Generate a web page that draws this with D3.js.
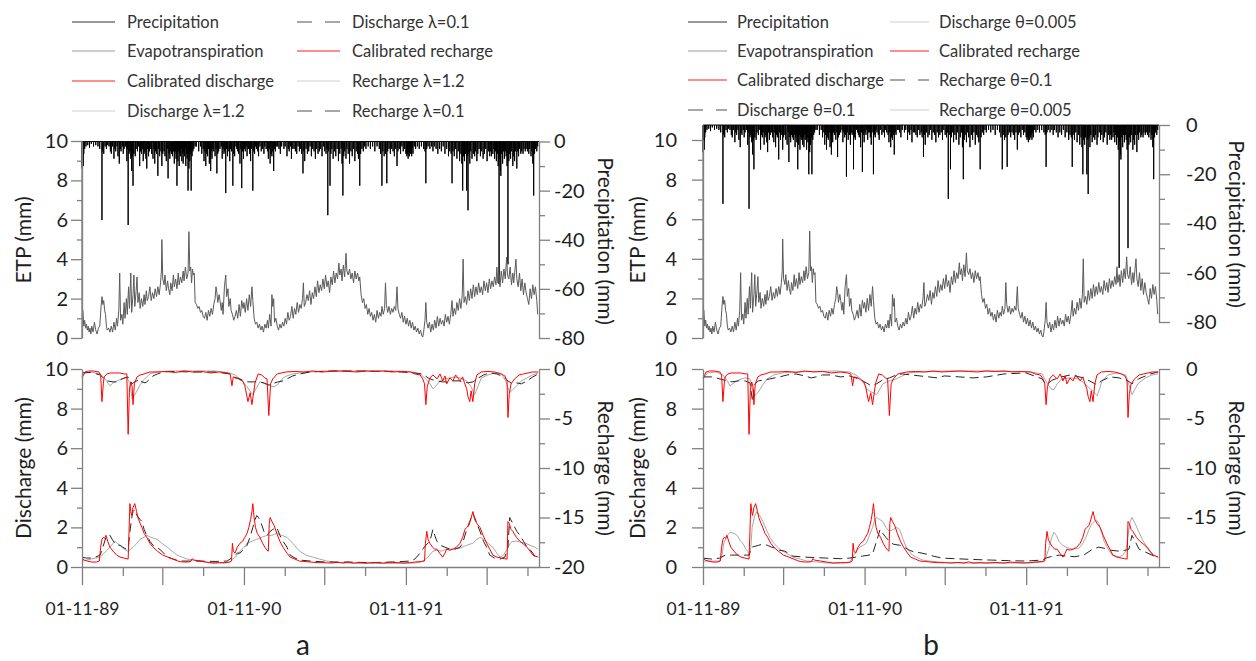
<!DOCTYPE html>
<html><head><meta charset="utf-8">
<script src="https://cdn.jsdelivr.net/npm/d3@7"></script>
<style>body{margin:0;background:#fff} text{font-family:Lato,"Open Sans",sans-serif}</style>
</head><body><svg id="c" width="1256" height="661"></svg>
<script>
// ---------- DATA (day offset from 01-11-1989, value) ----------
const precipitation = [[0,11],[1,9],[2,7],[3,10],[4,5],[6,3],[9,2],[13,1.5],[17,2.5],[21,1],[26,2],[31,1.5],[36,2],[40,3],
[45,32],[46,4],[49,5],[52,2],[55,3],[58,1.5],[61,2],[64,4],[66,5],[69,2],[72,7],[74,3],[76,4],[79,2],[81,6],[84,9],[86,3],[88,4],[91,2],[93,5],[95,3],[98,2],[101,8],[102,3],[104,34],[106,5],[108,4],[110,7],[112,12],[113,6],[115,18],[117,5],[120,6],[122,3],[125,4],[127,2],[130,10],[132,4],[134,5],[136,3],[138,8],[140,5],[142,4],[144,7],[146,11],[148,3],[150,6],[152,4],[155,3],[157,5],[160,7],[162,3],[164,9],[166,4],[168,5],[171,14],[173,3],[175,6],[178,4],[180,10],[182,5],[185,4],[187,6],[190,8],[192,3],[194,15],[196,5],[198,7],[200,4],[202,5],[204,6],[206,4],[208,9],[209,5],[211,4],[212,7],[214,18],[215,5],[216,8],[218,4],[219,10],[221,5],[222,6],[224,3],[225,8],[227,5],[228,9],[230,4],[231,6],[233,3],[234,10],[236,5],[237,7],[239,20],[240,5],[241,11],[242,4],[243,8],[245,5],[246,20],[248,6],[250,4],[252,3],[255,2],[258,2],[263,4],[267,2],[270,5],[273,3],[275,8],[277,4],[279,10],[281,5],[283,6],[285,3],[287,9],[289,6],[290,12],[292,4],[293,7],[295,3],[297,4],[300,6],[302,3],[304,13],[306,5],[308,4],[311,3],[314,2],[316,7],[318,3],[320,5],[322,4],[324,21],[326,3],[328,6],[331,4],[333,8],[335,3],[337,4],[340,18],[342,5],[344,6],[347,2],[349,3],[351,4],[353,5],[356,9],[358,3],[360,19],[362,4],[364,7],[366,3],[368,4],[370,2],[372,6],[374,3],[376,3],[378,5],[380,8],[382,3],[385,20],[387,4],[389,5],[391,2],[393,3],[396,4],[398,6],[401,2],[404,4],[407,3],[410,5],[412,2],[415,3],[418,4],[420,7],[422,3],[424,9],[426,5],[428,6],[430,4],[432,12],[434,3],[436,4],[439,2],[441,2],[444,3],[447,5],[450,2],[455,3],[458,2],[462,6],[465,3],[467,4],[470,2],[472,7],[475,3],[478,3],[481,4],[484,5],[487,2],[490,4],[493,3],[495,5],[498,13],[500,4],[502,8],[505,3],[508,5],[511,4],[514,2],[517,6],[520,3],[523,4],[526,7],[529,3],[532,5],[535,4],[538,3],[541,6],[544,2],[547,4],[550,5],[552,3],[554,30],[556,4],[559,18],[561,5],[563,3],[566,7],[569,4],[572,6],[575,3],[578,8],[581,5],[584,3],[586,9],[588,22],[590,6],[592,4],[595,7],[597,3],[600,5],[603,9],[606,4],[609,6],[612,3],[615,8],[618,4],[621,5],[623,7],[626,18],[628,5],[631,3],[634,4],[637,2],[640,3],[645,2],[650,3],[655,2],[660,4],[665,2],[670,3],[673,5],[676,18],[678,4],[681,6],[684,5],[687,17],[689,4],[692,3],[695,5],[698,3],[701,4],[704,6],[707,3],[710,10],[712,4],[715,3],[718,5],[721,2],[724,4],[727,3],[730,5],[732,6],[734,5],[735,7],[736,4],[738,6],[740,5],[741,4],[743,6],[744,3],[746,5],[749,2],[752,3],[756,2],[760,3],[765,2],[770,3],[773,4],[775,17],[777,3],[780,2],[784,3],[788,2],[791,4],[794,2],[798,3],[802,5],[806,3],[810,4],[814,2],[818,5],[822,3],[826,6],[829,4],[832,5],[834,17],[836,4],[839,6],[842,3],[845,7],[848,4],[851,8],[854,5],[856,9],[858,20],[860,6],[862,8],[864,5],[867,20],[869,6],[870,28],[872,5],[874,9],[876,4],[879,7],[882,5],[885,6],[887,4],[890,8],[892,5],[895,3],[898,6],[901,4],[904,7],[907,5],[910,3],[913,8],[916,4],[919,6],[921,4],[923,6],[926,5],[928,3],[930,7],[932,4],[934,8],[936,5],[938,10],[940,58],[941,7],[943,12],[944,14],[946,5],[948,9],[950,4],[952,7],[954,4],[956,6],[958,10],[960,50],[962,8],[964,5],[966,7],[968,4],[971,10],[973,6],[975,8],[977,4],[980,11],[982,4],[984,6],[986,3],[989,5],[991,4],[994,5],[996,3],[999,4],[1001,3],[1004,4],[1007,5],[1009,3],[1012,6],[1014,4],[1016,9],[1018,22],[1020,5],[1022,3],[1025,4],[1027,2]];

const etp = [[0,1.5],[2,1.4],[4,0.6],[6,0.9],[8,0.5],[10,0.7],[12,0.4],[14,0.6],[16,0.3],[18,0.5],[20,0.2],[22,0.6],[25,0.3],[28,0.8],[31,0.4],[34,0.2],[37,0.5],[40,0.6],[43,1.6],[45,2.1],[47,1.7],[49,1.9],[51,1.4],[53,1.2],[55,0.6],[57,0.4],[60,0.5],[63,0.3],[66,0.6],[69,0.3],[72,0.8],[75,0.4],[78,1.0],[80,0.6],[83,1.4],[85,3.3],[87,0.9],[90,1.2],[92,0.7],[95,1.8],[97,1.0],[100,2.0],[102,1.2],[105,2.6],[107,1.5],[110,3.3],[112,1.3],[115,2.2],[117,3.2],[119,1.6],[122,2.4],[124,3.1],[126,1.8],[129,2.3],[131,1.5],[134,2.0],[137,1.6],[140,2.2],[142,1.7],[145,2.4],[147,1.9],[150,2.1],[153,2.6],[156,1.9],[159,2.3],[162,2.0],[165,2.5],[168,2.1],[171,2.6],[174,2.2],[177,2.8],[179,3.4],[180,5.0],[182,3.0],[185,2.7],[187,3.2],[190,2.4],[193,2.9],[195,2.5],[198,2.2],[200,2.8],[203,2.4],[206,3.2],[208,2.6],[211,3.0],[214,2.5],[217,3.3],[219,2.7],[222,3.1],[225,2.8],[228,3.4],[230,2.9],[233,3.6],[236,3.0],[239,3.3],[241,5.4],[243,3.4],[245,3.6],[247,2.8],[249,3.5],[251,3.2],[253,3.3],[255,1.8],[258,1.7],[261,1.5],[264,1.6],[267,1.3],[270,1.4],[273,1.1],[276,1.0],[279,1.3],[282,0.9],[285,1.4],[288,1.1],[291,1.5],[294,1.2],[297,1.7],[300,2.0],[302,2.6],[304,2.3],[306,1.8],[309,2.2],[311,1.9],[314,1.4],[316,1.8],[318,1.2],[321,2.6],[324,3.2],[326,2.1],[329,2.5],[331,1.6],[334,2.0],[336,1.4],[339,1.2],[342,0.9],[345,1.1],[348,1.4],[351,1.0],[354,1.7],[357,1.1],[360,1.9],[363,1.5],[365,1.8],[368,1.3],[371,2.0],[374,1.4],[377,2.2],[380,1.6],[383,2.6],[385,1.9],[388,1.0],[391,0.7],[394,0.8],[397,0.5],[400,0.7],[403,0.4],[406,0.6],[409,0.3],[412,0.7],[415,0.5],[418,0.9],[420,0.5],[423,1.2],[426,0.6],[428,2.2],[430,1.6],[432,2.0],[434,0.8],[437,1.0],[440,0.6],[443,0.4],[446,0.7],[449,0.5],[452,0.8],[455,0.6],[458,1.0],[461,0.7],[464,1.3],[467,0.9],[470,1.1],[473,1.6],[476,1.0],[479,1.5],[482,1.2],[485,1.8],[488,1.3],[491,1.7],[494,1.5],[497,2.0],[499,2.8],[501,1.6],[504,1.8],[507,2.2],[510,1.9],[513,2.4],[516,1.7],[519,2.3],[522,2.0],[525,2.6],[528,2.1],[531,2.9],[534,2.3],[537,2.7],[540,2.4],[543,3.0],[546,2.5],[549,3.2],[552,2.6],[555,2.9],[558,2.3],[561,3.1],[564,2.7],[567,3.4],[570,2.8],[573,3.3],[576,3.0],[579,3.8],[581,3.2],[584,3.5],[586,2.9],[589,3.7],[592,3.1],[595,4.3],[597,3.4],[600,3.2],[603,3.5],[606,3.0],[609,3.3],[612,2.8],[615,3.4],[618,3.0],[621,3.3],[624,2.9],[626,3.1],[629,2.2],[632,1.8],[635,2.0],[638,1.5],[641,1.7],[644,1.2],[647,1.5],[650,1.1],[653,1.3],[656,0.9],[659,1.2],[662,0.8],[665,1.4],[668,1.0],[671,1.3],[674,1.1],[676,1.6],[679,1.2],[682,1.5],[684,2.8],[686,1.7],[689,1.3],[692,1.6],[695,1.2],[698,1.5],[701,1.3],[704,1.6],[707,1.4],[710,2.6],[712,1.5],[715,1.2],[718,1.0],[721,1.3],[724,0.8],[727,1.1],[730,0.7],[733,1.0],[736,0.6],[739,0.9],[742,0.5],[745,0.8],[748,0.4],[751,0.6],[754,0.3],[757,0.5],[760,0.2],[763,0.4],[766,0.1],[768,0.05],[770,0.3],[773,0.9],[775,1.8],[777,0.8],[780,0.5],[783,0.8],[786,0.3],[789,0.7],[792,0.4],[795,0.9],[798,0.5],[801,1.1],[804,0.6],[807,1.0],[810,0.7],[813,0.9],[816,0.6],[819,1.2],[822,0.8],[825,1.1],[828,0.7],[831,1.2],[834,1.9],[836,1.1],[839,1.5],[842,1.2],[845,1.8],[848,1.4],[851,2.0],[854,1.5],[857,2.2],[859,4.0],[861,1.8],[864,2.1],[867,1.7],[870,2.4],[873,1.9],[876,2.5],[879,2.0],[882,2.7],[885,2.1],[888,2.6],[891,2.2],[894,2.8],[897,2.3],[900,2.6],[903,2.2],[906,2.9],[909,2.4],[912,2.8],[915,2.3],[918,3.0],[921,2.5],[924,2.9],[927,2.6],[930,3.1],[933,2.7],[935,3.6],[937,2.8],[940,3.2],[942,2.6],[945,3.4],[948,2.8],[951,3.5],[954,3.0],[957,4.1],[959,3.2],[962,3.0],[965,3.6],[968,2.7],[971,3.3],[973,2.8],[976,3.5],[978,4.0],[980,3.0],[983,2.6],[986,3.3],[989,2.4],[992,3.0],[995,2.2],[998,2.8],[1001,2.3],[1004,2.0],[1007,1.7],[1010,2.5],[1013,2.0],[1016,2.7],[1019,2.2],[1022,2.6],[1025,1.9],[1027,1.2]];

const calibratedDischarge = [[0,0.45],[5,0.35],[12,0.3],[22,0.25],[32,0.25],[39,0.3],[42,1.0],[45,1.4],[48,1.5],[51,1.45],[54,1.6],[58,1.3],[63,1.0],[70,0.8],[78,0.6],[86,0.5],[95,0.45],[104,0.4],[106,1.8],[108,3.2],[110,2.8],[112,2.6],[115,3.0],[119,3.2],[123,2.8],[126,2.5],[131,2.2],[135,2.0],[140,1.7],[146,1.5],[153,1.2],[160,1.0],[170,0.8],[182,0.6],[194,0.5],[205,0.4],[214,0.32],[221,0.27],[232,0.25],[242,0.26],[246,0.3],[248,0.42],[252,0.35],[266,0.3],[280,0.25],[295,0.2],[310,0.22],[322,0.22],[333,0.25],[337,0.3],[339,1.2],[341,0.8],[345,0.7],[350,1.0],[356,1.2],[362,1.3],[367,1.5],[372,1.7],[376,2.0],[380,2.4],[383,2.8],[385,3.2],[388,2.5],[391,2.0],[395,1.7],[401,1.5],[407,1.2],[412,1.0],[417,0.85],[420,0.8],[422,2.2],[424,2.5],[428,2.3],[433,2.1],[439,1.7],[446,1.3],[453,1.0],[462,0.7],[469,0.5],[480,0.4],[490,0.3],[500,0.28],[515,0.25],[530,0.22],[545,0.22],[560,0.2],[575,0.23],[590,0.2],[600,0.26],[610,0.2],[625,0.22],[640,0.2],[660,0.23],[680,0.2],[695,0.25],[710,0.22],[725,0.2],[740,0.22],[750,0.25],[765,0.28],[772,0.3],[774,1.2],[777,1.8],[780,1.4],[784,1.2],[790,1.0],[795,0.9],[800,0.9],[806,0.7],[813,0.5],[818,0.7],[822,0.9],[829,0.85],[836,0.9],[844,1.0],[852,1.2],[858,1.5],[863,1.9],[867,2.0],[872,2.1],[876,2.4],[881,2.8],[885,2.4],[890,2.2],[897,2.0],[904,1.6],[912,1.2],[919,0.9],[926,0.6],[935,0.5],[945,0.45],[952,0.42],[958,0.4],[960,2.3],[963,2.2],[967,1.9],[971,1.8],[979,1.5],[987,1.3],[995,1.15],[1003,1.0],[1010,0.8],[1016,0.6],[1022,0.55],[1028,0.5]];

const calibratedRecharge = [[0,-0.9],[7,-0.3],[15,-0.2],[25,-0.2],[38,-0.3],[42,-0.6],[45,-3.3],[48,-1.5],[50,-0.8],[56,-0.5],[65,-0.4],[75,-0.4],[85,-0.4],[95,-0.5],[101,-0.5],[104,-6.6],[107,-2.0],[110,-1.3],[113,-1.8],[115,-3.6],[118,-1.5],[124,-0.8],[131,-0.6],[140,-0.5],[153,-0.3],[170,-0.3],[190,-0.25],[210,-0.35],[230,-0.2],[250,-0.3],[270,-0.25],[290,-0.4],[310,-0.3],[327,-0.4],[334,-0.5],[338,-1.7],[341,-0.8],[350,-0.9],[356,-1.1],[362,-1.2],[367,-1.7],[374,-3.3],[379,-2.4],[383,-3.6],[390,-1.4],[397,-0.5],[405,-0.6],[412,-0.9],[417,-1.0],[421,-4.7],[425,-1.5],[430,-1.0],[440,-0.5],[460,-0.3],[480,-0.25],[500,-0.3],[520,-0.2],[540,-0.3],[560,-0.25],[580,-0.2],[600,-0.25],[620,-0.3],[640,-0.2],[660,-0.25],[680,-0.2],[700,-0.3],[720,-0.25],[740,-0.3],[750,-0.5],[762,-0.6],[768,-1.0],[772,-1.5],[775,-3.6],[778,-1.8],[784,-0.9],[791,-0.6],[800,-1.0],[807,-0.5],[813,-1.2],[818,-0.7],[822,-1.5],[829,-0.9],[836,-1.2],[842,-0.6],[852,-1.2],[858,-0.8],[862,-1.4],[867,-2.0],[870,-2.8],[874,-3.3],[877,-2.2],[881,-3.3],[885,-1.5],[890,-0.6],[900,-0.3],[915,-0.25],[930,-0.3],[945,-0.5],[953,-0.7],[958,-1.2],[960,-4.9],[963,-2.5],[967,-1.5],[975,-1.0],[985,-0.6],[995,-0.5],[1005,-0.4],[1015,-0.3],[1028,-0.3]];

const dischargeL12 = [[0,0.3],[10,0.35],[20,0.4],[30,0.45],[41,0.5],[50,0.7],[63,1.0],[74,1.3],[85,1.1],[95,0.9],[104,0.8],[110,0.9],[115,1.0],[124,1.2],[131,1.4],[140,1.5],[146,1.6],[155,1.5],[169,1.4],[180,1.2],[192,1.0],[203,0.8],[214,0.6],[226,0.5],[237,0.4],[250,0.35],[266,0.3],[282,0.22],[300,0.2],[320,0.2],[333,0.25],[340,0.4],[350,0.6],[356,0.8],[365,1.0],[372,1.2],[383,1.3],[394,1.4],[405,1.5],[417,1.6],[428,1.6],[439,1.7],[450,1.6],[462,1.5],[475,1.2],[490,0.8],[505,0.6],[520,0.5],[536,0.4],[552,0.3],[570,0.25],[600,0.2],[650,0.18],[700,0.18],[740,0.2],[760,0.22],[768,0.3],[780,0.5],[791,0.8],[800,0.85],[810,0.8],[822,0.9],[836,0.9],[852,0.95],[867,1.1],[881,1.2],[890,1.4],[897,1.5],[905,1.4],[915,1.2],[926,1.0],[935,0.7],[942,0.5],[950,0.6],[958,0.9],[965,1.2],[971,1.3],[980,1.3],[990,1.25],[1000,1.2],[1010,1.1],[1020,1.0],[1028,0.9]];

const dischargeL01 = [[0,0.5],[10,0.45],[20,0.45],[30,0.5],[41,0.6],[47,1.0],[54,1.5],[58,1.6],[63,1.6],[68,1.4],[74,1.2],[79,1.1],[86,1.1],[92,1.0],[100,0.9],[104,0.9],[108,1.8],[113,2.6],[115,2.8],[119,2.9],[124,2.6],[131,2.4],[135,2.3],[140,1.9],[146,1.6],[153,1.3],[160,1.1],[169,1.0],[180,0.8],[192,0.5],[205,0.4],[221,0.3],[240,0.3],[266,0.3],[300,0.28],[327,0.3],[340,0.5],[350,0.7],[356,0.7],[365,0.9],[372,1.1],[380,1.6],[385,2.0],[390,2.4],[394,2.6],[398,2.5],[404,2.2],[410,1.8],[417,1.6],[424,1.8],[430,1.9],[439,2.0],[446,1.6],[453,1.3],[462,1.0],[469,0.6],[480,0.45],[491,0.35],[514,0.3],[550,0.25],[600,0.25],[650,0.22],[700,0.25],[740,0.3],[750,0.4],[762,0.7],[768,0.9],[775,1.1],[784,1.3],[791,1.9],[795,1.6],[800,1.3],[807,1.1],[818,1.0],[829,0.9],[840,0.9],[852,1.0],[858,1.2],[867,1.9],[874,2.3],[881,2.7],[885,2.5],[890,2.2],[897,1.8],[905,1.3],[912,1.0],[919,0.6],[930,0.45],[942,0.4],[953,0.5],[960,1.0],[964,2.5],[966,2.4],[971,2.2],[980,1.8],[987,1.6],[995,1.3],[1003,1.0],[1009,0.9],[1016,0.7],[1022,0.5],[1028,0.4]];

const rechargeL12 = [[0,-0.4],[20,-0.3],[41,-0.5],[50,-0.9],[63,-1.7],[70,-1.4],[79,-1.2],[90,-1.0],[101,-0.8],[108,-1.5],[113,-3.0],[118,-2.7],[124,-2.2],[131,-1.6],[137,-1.2],[146,-0.8],[153,-0.5],[170,-0.3],[200,-0.2],[250,-0.2],[300,-0.2],[333,-0.4],[345,-0.6],[356,-1.0],[363,-1.3],[372,-1.8],[380,-2.3],[385,-2.6],[392,-2.0],[401,-1.3],[412,-1.5],[424,-1.7],[433,-1.8],[440,-1.6],[446,-1.3],[453,-0.9],[462,-0.7],[475,-0.5],[491,-0.4],[514,-0.3],[550,-0.2],[620,-0.2],[700,-0.2],[740,-0.25],[762,-0.5],[775,-1.0],[784,-1.5],[791,-2.0],[800,-1.6],[807,-1.2],[818,-1.0],[829,-0.9],[840,-0.8],[852,-0.9],[867,-1.2],[877,-1.8],[885,-2.6],[892,-1.8],[900,-0.9],[915,-0.6],[930,-0.4],[945,-0.5],[955,-1.2],[964,-2.4],[970,-2.1],[980,-1.7],[990,-1.2],[1003,-0.9],[1016,-0.6],[1028,-0.4]];

const rechargeL01 = [[0,-0.4],[20,-0.35],[41,-0.6],[50,-1.0],[56,-1.2],[70,-1.3],[79,-1.3],[90,-1.0],[104,-0.8],[108,-1.0],[113,-1.5],[118,-1.3],[124,-1.2],[131,-1.0],[135,-1.3],[142,-1.4],[146,-1.3],[153,-1.0],[160,-0.7],[170,-0.5],[185,-0.3],[200,-0.25],[250,-0.3],[300,-0.3],[333,-0.5],[345,-0.9],[356,-1.0],[365,-1.2],[374,-1.3],[385,-1.3],[394,-1.3],[401,-1.3],[410,-1.4],[420,-1.6],[428,-1.5],[435,-1.4],[442,-1.3],[453,-1.2],[462,-1.0],[475,-0.7],[491,-0.5],[514,-0.3],[560,-0.2],[620,-0.2],[700,-0.25],[750,-0.4],[768,-0.5],[780,-0.9],[791,-1.1],[800,-1.2],[813,-1.3],[822,-1.3],[836,-1.2],[850,-1.2],[860,-1.3],[870,-1.4],[881,-1.3],[890,-1.0],[905,-0.6],[919,-0.4],[935,-0.5],[950,-0.8],[960,-1.2],[970,-1.5],[980,-1.4],[990,-1.5],[1003,-1.2],[1016,-0.8],[1028,-0.5]];

const dischargeT0005 = [[0,0.3],[20,0.3],[38,0.3],[43,0.6],[47,1.2],[55,1.6],[61,1.75],[70,1.7],[77,1.6],[85,1.3],[90,1.2],[97,0.9],[101,0.8],[105,0.6],[108,1.0],[111,2.0],[117,2.6],[122,2.8],[128,2.6],[135,2.3],[143,1.9],[151,1.5],[160,1.2],[173,0.9],[188,0.7],[203,0.5],[220,0.4],[234,0.3],[260,0.25],[279,0.2],[310,0.2],[331,0.22],[338,0.5],[346,0.8],[354,1.0],[362,1.1],[369,1.2],[376,1.6],[383,2.0],[388,2.4],[392,2.5],[399,2.4],[406,2.3],[413,2.0],[421,1.8],[430,1.9],[437,2.0],[444,1.9],[452,1.4],[459,1.0],[466,0.8],[473,0.6],[482,0.5],[496,0.35],[511,0.3],[534,0.25],[557,0.22],[600,0.2],[650,0.2],[700,0.2],[750,0.22],[768,0.25],[775,0.5],[782,1.0],[788,1.5],[793,1.75],[798,1.6],[804,1.3],[812,1.1],[820,1.0],[835,0.9],[849,0.95],[858,1.2],[865,1.5],[872,1.9],[879,2.2],[888,2.4],[894,2.2],[901,1.7],[906,1.3],[915,0.9],[924,0.6],[932,0.55],[940,0.5],[948,0.6],[955,0.8],[960,1.6],[965,2.3],[969,2.5],[976,2.2],[984,1.8],[992,1.4],[1000,1.1],[1008,0.8],[1014,0.7],[1020,0.6],[1028,0.5]];

const dischargeT01 = [[0,0.45],[20,0.4],[38,0.45],[50,0.6],[65,0.6],[80,0.6],[95,0.6],[104,0.6],[110,1.0],[118,1.05],[126,1.1],[135,1.15],[145,1.1],[155,1.0],[165,0.95],[173,0.85],[185,0.8],[203,0.55],[230,0.5],[260,0.47],[279,0.45],[310,0.42],[331,0.45],[345,0.5],[360,0.55],[375,0.6],[383,0.65],[392,1.3],[400,1.9],[406,1.7],[413,1.5],[421,1.3],[430,1.15],[444,1.1],[455,1.0],[466,0.85],[478,0.75],[490,0.72],[505,0.65],[520,0.55],[540,0.45],[570,0.42],[610,0.38],[650,0.35],[690,0.32],[730,0.3],[766,0.35],[775,0.45],[790,0.55],[805,0.6],[820,0.55],[840,0.52],[860,0.6],[880,0.9],[894,1.0],[906,0.95],[920,0.85],[940,0.8],[955,0.85],[962,0.9],[969,1.6],[976,1.3],[985,0.9],[1000,0.75],[1014,0.6],[1028,0.45]];

const rechargeT01 = [[0,-0.8],[20,-0.8],[38,-1.0],[55,-1.2],[65,-1.3],[80,-1.2],[95,-1.2],[106,-1.4],[112,-3.3],[116,-1.6],[125,-1.2],[140,-1.1],[151,-1.0],[173,-0.8],[190,-0.6],[210,-0.5],[230,-0.7],[245,-0.9],[255,-0.8],[270,-0.6],[290,-0.6],[310,-0.8],[331,-0.7],[345,-0.9],[360,-1.2],[369,-1.4],[380,-1.7],[392,-1.5],[406,-1.1],[421,-0.9],[437,-0.6],[450,-0.5],[470,-0.6],[490,-0.7],[510,-0.8],[530,-0.9],[545,-0.7],[580,-0.8],[610,-0.9],[640,-0.8],[680,-0.5],[730,-0.4],[766,-1.0],[775,-1.6],[790,-1.1],[810,-0.8],[830,-0.6],[860,-0.9],[890,-1.6],[900,-1.2],[920,-0.8],[940,-0.9],[960,-1.2],[969,-1.5],[984,-1.0],[1010,-0.5],[1028,-0.3]];

const rechargeT0005 = [[0,-1.0],[10,-0.4],[30,-0.3],[45,-0.6],[55,-1.2],[61,-1.7],[70,-1.4],[80,-1.1],[95,-0.9],[106,-1.0],[112,-2.2],[117,-2.7],[124,-2.4],[135,-1.6],[145,-1.0],[160,-0.6],[180,-0.4],[200,-0.3],[250,-0.25],[300,-0.2],[331,-0.3],[345,-0.6],[354,-0.9],[362,-1.3],[369,-2.0],[380,-2.3],[392,-2.6],[400,-2.0],[406,-1.5],[421,-1.2],[437,-1.0],[450,-0.7],[465,-0.4],[490,-0.3],[550,-0.2],[650,-0.2],[740,-0.3],[766,-0.5],[777,-1.4],[786,-2.0],[793,-2.1],[800,-1.5],[810,-1.0],[830,-0.9],[849,-1.0],[870,-1.8],[882,-2.3],[890,-2.7],[896,-2.0],[901,-1.2],[915,-0.6],[935,-0.4],[955,-0.6],[965,-2.0],[969,-2.6],[976,-2.0],[984,-1.4],[1000,-0.9],[1014,-0.6],[1028,-0.5]];

const etpTicks = [0,2,4,6,8,10];
const precipTicks = [0,-20,-40,-60,-80];
const dischargeTicks = [0,2,4,6,8,10];
const rechargeTicks = [0,-5,-10,-15,-20];

const legendA = [["Precipitation","precip"],["Evapotranspiration","etp"],["Calibrated discharge","cal"],["Discharge λ=1.2","light"],
                 ["Discharge λ=0.1","dash"],["Calibrated recharge","cal"],["Recharge λ=1.2","light"],["Recharge λ=0.1","dash"]];
const legendB = [["Precipitation","precip"],["Evapotranspiration","etp"],["Calibrated discharge","cal"],["Discharge θ=0.1","dash"],
                 ["Discharge θ=0.005","light"],["Calibrated recharge","cal"],["Recharge θ=0.1","dash"],["Recharge θ=0.005","light"]];

// ---------- DRAWING ----------
const svg = d3.select('#c');
svg.append('rect').attr('width',1256).attr('height',661).attr('fill','#fff');
const t0 = new Date(1989,10,1);
const toDate = d => d3.timeDay.offset(t0, d);
const tEnd = toDate(1030);
const AX = '#808080', TXT = '#1e1e1e';
const styles = {
  precip:{stroke:'#000', w:1, lw:1.2, lc:'#333'},
  etp:{stroke:'#5a5a5a', w:1, lw:1.2, lc:'#9a9a9a'},
  cal:{stroke:'#ff0000', w:1, lw:1.5, lc:'#ff6a6a'},
  light:{stroke:'#a8a8a8', w:1, lw:1.2, lc:'#cfcfcf'},
  dash:{stroke:'#262626', w:1, lw:1.5, lc:'#8a8a8a', dash:'9,5', ldash:'15,13'}
};

function styleAxis(g, fs){
  g.select('.domain').attr('stroke',AX).attr('stroke-width',1.3);
  g.selectAll('.tick line').attr('stroke',AX).attr('stroke-width',1.3);
  g.selectAll('.tick text').attr('fill',TXT).style('font-size',fs+'px').style('font-family','Lato,"Open Sans",sans-serif');
}

function panel(cfg){
  const g = svg.append('g');
  const x = d3.scaleTime().domain([t0,tEnd]).range([cfg.x0,cfg.x1]);
  const yE = d3.scaleLinear().domain([0,10]).range([338,cfg.etpTop]);
  const yP = d3.scaleLinear().domain([-80,0]).range([cfg.pBottom,cfg.pTop]);
  const yQ = d3.scaleLinear().domain([0,10]).range([567,369]);
  const yR = d3.scaleLinear().domain([-20,0]).range([567,369]);

  const line = (ys) => d3.line().x(d=>x(toDate(d[0]))).y(d=>ys(d[1]));
  const draw = (data, ys, st) => g.append('path').datum(data).attr('d',line(ys))
      .attr('fill','none').attr('stroke',st.stroke).attr('stroke-width',st.w)
      .attr('stroke-dasharray',st.dash||null).attr('stroke-linejoin','round');

  // precipitation as a hanging spike line from the zero baseline
  const pts = [[0,0]];
  precipitation.forEach(p=>{pts.push([p[0],0],[p[0],-p[1]],[p[0]+0.6,0]);});
  pts.push([1030,0]);
  draw(pts, yP, styles.precip);
  draw(etp, yE, styles.etp);

  // bottom plot
  draw(cfg.disLight, yQ, styles.light);
  draw(cfg.recLight, yR, styles.light);
  draw(cfg.disDash, yQ, styles.dash);
  draw(cfg.recDash, yR, styles.dash);
  draw(calibratedDischarge, yQ, styles.cal);
  draw(calibratedRecharge, yR, styles.cal);

  // axes top
  const fs = 20;
  g.append('line').attr('x1',cfg.x0).attr('x2',cfg.x0).attr('y1',yE(0)).attr('y2',cfg.pTop).attr('stroke',AX).attr('stroke-width',1.3);
  const la = g.append('g').attr('transform',`translate(${cfg.x0},0)`)
    .call(d3.axisLeft(yE).tickValues(etpTicks).tickSize(11).tickSizeOuter(0).tickPadding(cfg.lpad));
  styleAxis(la, fs);
  const lam = g.append('g').attr('transform',`translate(${cfg.x0},0)`)
    .call(d3.axisLeft(yE).tickValues([1,3,5,7,9]).tickSize(5).tickFormat(''));
  styleAxis(lam, fs); lam.select('.domain').remove();
  const ra = g.append('g').attr('transform',`translate(${cfg.x1},0)`)
    .call(d3.axisRight(yP).tickValues(precipTicks).tickSize(11).tickSizeOuter(0).tickPadding(cfg.rpad).tickFormat(d=>String(d)));
  styleAxis(ra, fs);
  const ram = g.append('g').attr('transform',`translate(${cfg.x1},0)`)
    .call(d3.axisRight(yP).tickValues([-10,-30,-50,-70]).tickSize(6).tickFormat(''));
  styleAxis(ram, fs); ram.select('.domain').remove();

  // axes bottom
  const lb = g.append('g').attr('transform',`translate(${cfg.x0},0)`)
    .call(d3.axisLeft(yQ).tickValues(dischargeTicks).tickSize(11).tickSizeOuter(0).tickPadding(cfg.lpad));
  styleAxis(lb, fs);
  const lbm = g.append('g').attr('transform',`translate(${cfg.x0},0)`)
    .call(d3.axisLeft(yQ).tickValues([1,3,5,7,9]).tickSize(5).tickFormat(''));
  styleAxis(lbm, fs); lbm.select('.domain').remove();
  const rb = g.append('g').attr('transform',`translate(${cfg.x1},0)`)
    .call(d3.axisRight(yR).tickValues(rechargeTicks).tickSize(11).tickSizeOuter(0).tickPadding(cfg.rpad).tickFormat(d=>String(d)));
  styleAxis(rb, fs);
  const rbm = g.append('g').attr('transform',`translate(${cfg.x1},0)`)
    .call(d3.axisRight(yR).tickValues([-2.5,-7.5,-12.5,-17.5]).tickSize(6).tickFormat(''));
  styleAxis(rbm, fs); rbm.select('.domain').remove();

  // x axis
  const months = d3.timeMonth.range(t0, tEnd, 3);
  const major = months.filter(m=>m.getMonth()===10||m.getMonth()===4);
  const minor = months.filter(m=>!(m.getMonth()===10||m.getMonth()===4));
  const fmt = d3.timeFormat('%d-%m-%y');
  const xa = g.append('g').attr('transform','translate(0,567)')
    .call(d3.axisBottom(x).tickValues(major).tickSize(18).tickSizeOuter(0).tickFormat(d=>d.getMonth()===10?fmt(d):''));
  styleAxis(xa, 17.5);
  xa.selectAll('.tick text').attr('y',36);
  const xam = g.append('g').attr('transform','translate(0,567)')
    .call(d3.axisBottom(x).tickValues(minor).tickSize(9).tickFormat(''));
  styleAxis(xam, 17); xam.select('.domain').remove();

  // axis titles
  const title = (txt,cx,cy,rot) => g.append('text').attr('transform',`translate(${cx},${cy}) rotate(${rot})`)
     .attr('text-anchor','middle').attr('dominant-baseline','central').attr('fill',TXT).style('font-size','21px').text(txt);
  title('ETP (mm)', cfg.ltx, 240, -90);
  title('Discharge (mm)', cfg.ltx, 468, -90);
  title('Precipitation (mm)', cfg.rtx, cfg.ptY, 90);
  title('Recharge (mm)', cfg.rtx, 468, 90);

  // legend
  cfg.legend.forEach((e,i)=>{
    const col = Math.floor(i/4), row = i%4;
    const lx = cfg.legX[col], ly = cfg.legY[row];
    const st = styles[e[1]];
    g.append('line').attr('x1',lx).attr('x2',lx+cfg.legLen).attr('y1',ly).attr('y2',ly)
      .attr('stroke',st.lc).attr('stroke-width',st.lw).attr('stroke-dasharray',st.ldash||null);
    g.append('text').attr('x',cfg.legT[col]).attr('y',ly).attr('dominant-baseline','central')
      .attr('fill','#333').style('font-size','16.5px').text(e[0]);
  });

  g.append('text').attr('x',cfg.labX).attr('y',655).attr('text-anchor','middle')
    .attr('fill',TXT).style('font-size','28px').text(cfg.label);
}

panel({x0:82, x1:539, etpTop:141, pTop:141.5, pBottom:338, lpad:3, rpad:4, ltx:22, rtx:606, ptY:241,
  disLight:dischargeL12, disDash:dischargeL01, recLight:rechargeL12, recDash:rechargeL01,
  legend:legendA, legX:[72,297], legT:[127,352], legY:[22,51,81,111], legLen:43, labX:303, label:'a'});
panel({x0:703, x1:1159, etpTop:140, pTop:125, pBottom:322, lpad:15, rpad:16, ltx:636, rtx:1237, ptY:224,
  disLight:dischargeT0005, disDash:dischargeT01, recLight:rechargeT0005, recDash:rechargeT01,
  legend:legendB, legX:[688,890], legT:[737,939], legY:[22,51,80,110], legLen:39, labX:931, label:'b'});
</script></body></html>
